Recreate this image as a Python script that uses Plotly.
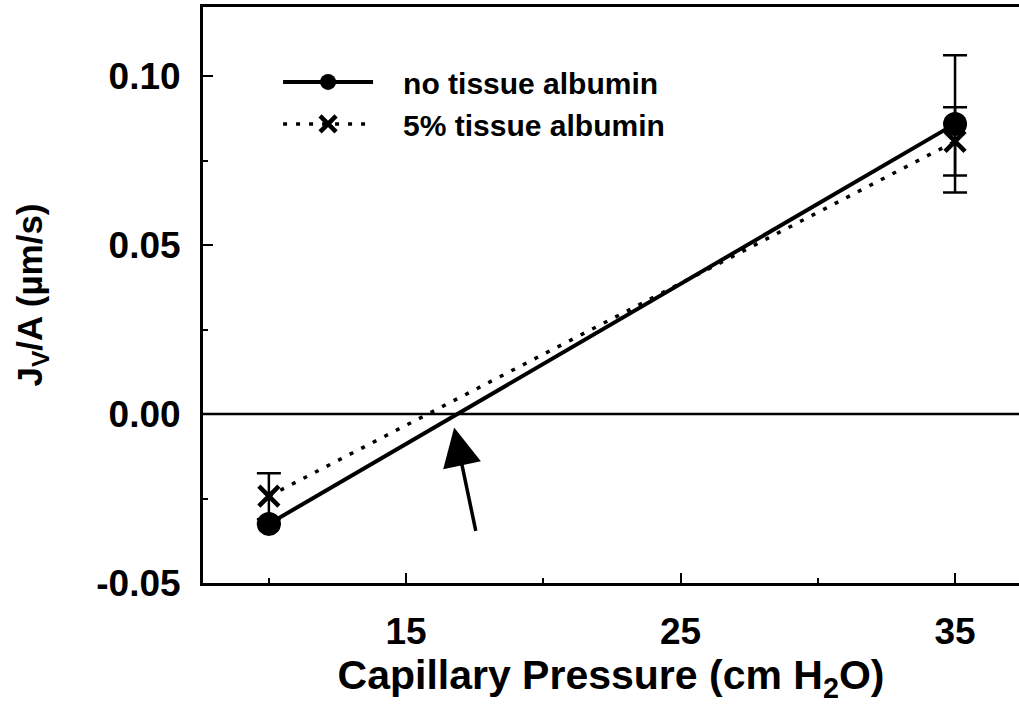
import plotly.graph_objects as go

# Capillary pressure (cm H2O) and filtration rate Jv/A (um/s)
pressure = [10, 35]
jva_no_albumin = [-0.0325, 0.0859]
err_no_albumin = [0.0, 0.0203]
jva_albumin = [-0.0243, 0.0807]
err_albumin = [0.0068, 0.0101]

series_names = ["no tissue albumin", "5% tissue albumin"]
x_ticks = [15, 25, 35]
y_ticks = [-0.05, 0.00, 0.05, 0.10]
y_tick_text = ["-0.05", "0.00", "0.05", "0.10"]

# arrow marking where the fitted lines cross zero flow
arrow_tip = (16.75, -0.004)
arrow_tail = (17.55, -0.035)

FONT = "Liberation Sans, Arial, Helvetica, sans-serif"
GAP = "\u00a0\u00a0\u00a0"

fig = go.Figure()

fig.add_trace(go.Scatter(
    x=pressure, y=jva_no_albumin, name=GAP + series_names[0],
    mode="lines+markers",
    line=dict(color="black", width=4),
    marker=dict(symbol="circle", size=24, color="black"),
    error_y=dict(type="data", array=err_no_albumin, color="black",
                 thickness=2.5, width=12),
))

fig.add_trace(go.Scatter(
    x=pressure, y=jva_albumin, name=GAP + series_names[1],
    mode="lines+markers",
    line=dict(color="black", width=3.5, dash="4px,9px"),
    marker=dict(symbol="x-thin", size=20, color="black",
                line=dict(color="black", width=4.5)),
    error_y=dict(type="data", array=err_albumin, color="black",
                 thickness=2.5, width=12),
))

# zero-flow reference line
fig.add_hline(y=0, line=dict(color="black", width=2.5))

fig.add_annotation(
    x=arrow_tip[0], y=arrow_tip[1], ax=arrow_tail[0], ay=arrow_tail[1],
    xref="x", yref="y", axref="x", ayref="y",
    text="", showarrow=True, arrowhead=2, arrowsize=2.2,
    arrowwidth=3.5, arrowcolor="black",
)

fig.update_layout(
    width=1019, height=710,
    margin=dict(l=203, r=0, t=7, b=127),
    paper_bgcolor="white", plot_bgcolor="white",
    font=dict(family=FONT, color="black"),
    showlegend=True,
    legend=dict(
        x=0.092, y=0.915, xanchor="left", yanchor="top",
        bgcolor="rgba(0,0,0,0)",
        font=dict(family=FONT, size=30, color="black", weight="bold"),
        itemwidth=90, tracegroupgap=0,
    ),
)

fig.update_xaxes(
    range=[7.6, 37.33],
    tickvals=x_ticks, ticktext=[str(v) for v in x_ticks],
    ticks="inside", ticklen=10, tickwidth=2, tickcolor="black",
    ticklabelstandoff=14,
    minor=dict(tickvals=[10, 20, 30], ticks="inside", ticklen=5,
               tickwidth=1.5, tickcolor="black"),
    showline=True, linecolor="black", linewidth=3, mirror=True,
    showgrid=False, zeroline=False,
    tickfont=dict(family=FONT, size=37, weight="bold"),
    title=dict(text="Capillary Pressure (cm H<sub>2</sub>O)",
               font=dict(family=FONT, size=41, weight="bold"), standoff=8),
)

fig.update_yaxes(
    range=[-0.05, 0.1205],
    tickvals=y_ticks, ticktext=y_tick_text,
    ticks="inside", ticklen=10, tickwidth=2, tickcolor="black",
    ticklabelstandoff=12,
    minor=dict(tickvals=[-0.025, 0.025, 0.075], ticks="inside", ticklen=5,
               tickwidth=1.5, tickcolor="black"),
    showline=True, linecolor="black", linewidth=3, mirror=False,
    showgrid=False, zeroline=False,
    tickfont=dict(family=FONT, size=37, weight="bold"),
    title=dict(text="J<sub>V</sub>/A (µm/s)",
               font=dict(family=FONT, size=35, weight="bold"), standoff=44),
)

fig.write_html("out.html")
